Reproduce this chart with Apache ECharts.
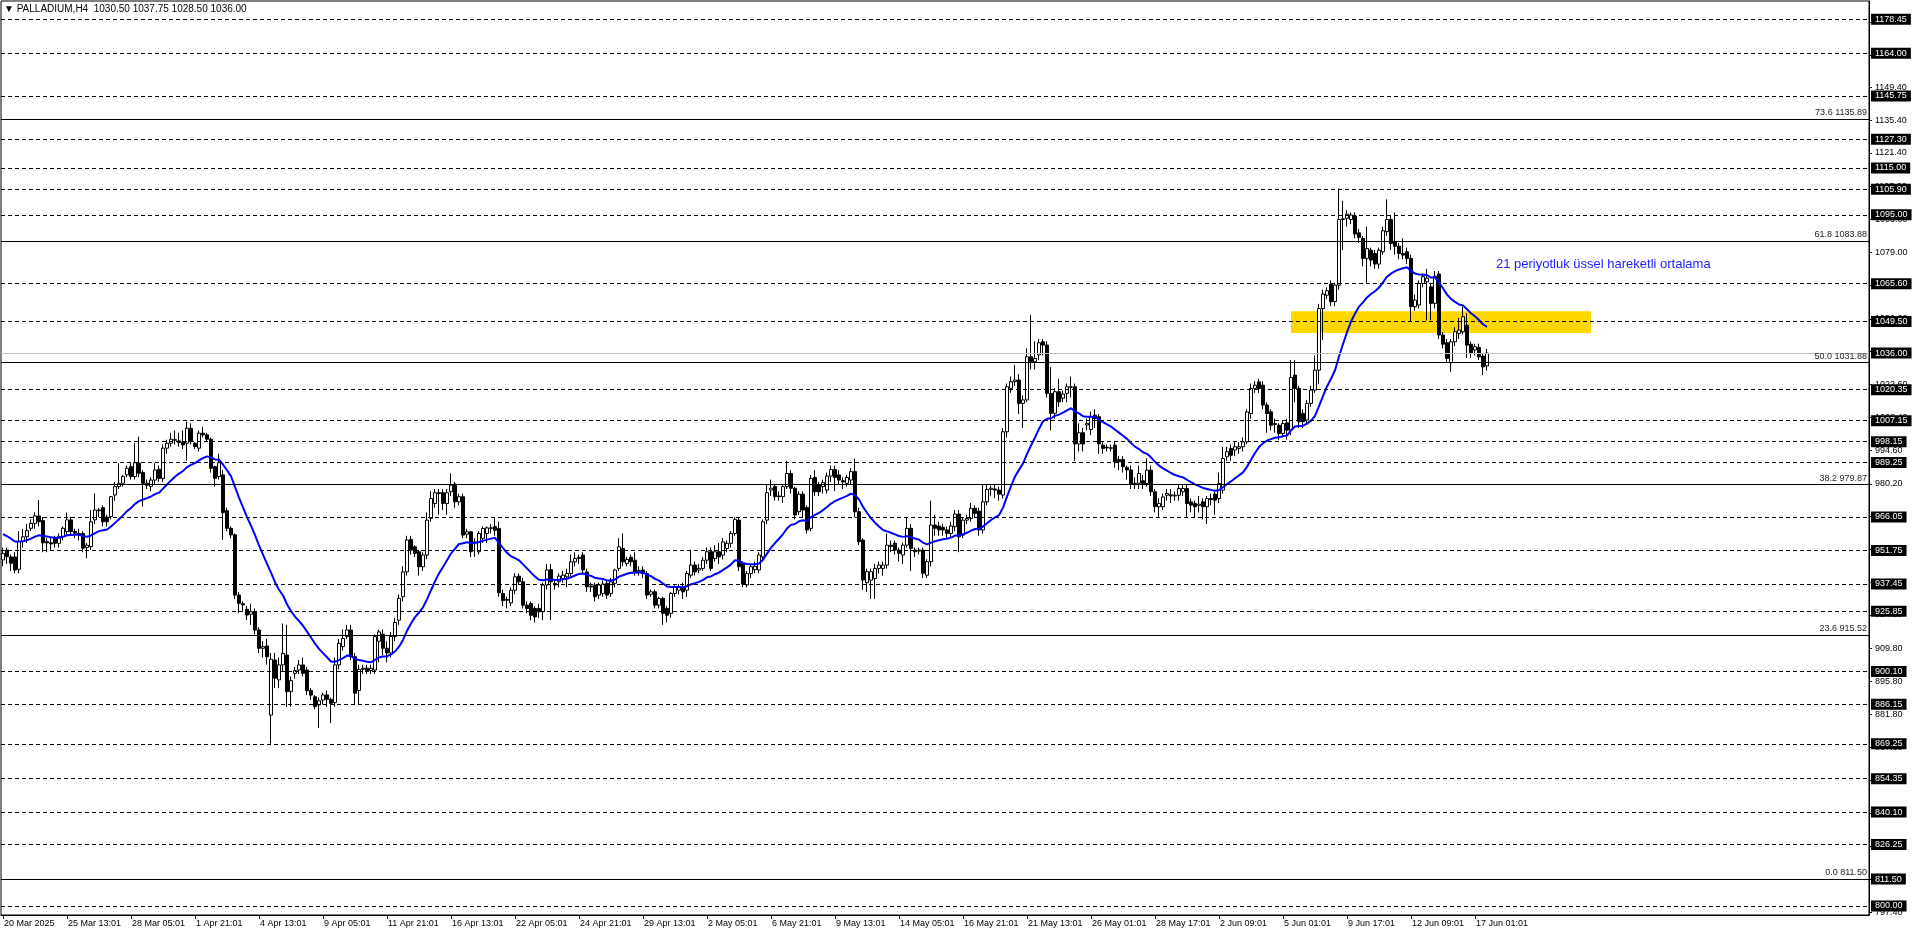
<!DOCTYPE html>
<html>
<head>
<meta charset="utf-8">
<script src="https://cdn.jsdelivr.net/npm/echarts@6/dist/echarts.min.js"></script>
<style>
html,body{margin:0;padding:0;background:#fff;}
#c{width:1916px;height:936px;}
</style>
</head>
<body>
<div id="c"></div>
<script>
// ---- DATA ----
const opens = [
947.7,951.9,949.0,949.0,943.7,955.5,957.6,961.2,963.3,966.5,
964.5,955.5,955.0,957.0,954.8,957.6,959.8,964.8,959.8,959.0,
959.0,953.0,953.4,964.8,969.0,970.0,966.0,966.2,975.4,979.0,
980.4,984.0,987.5,983.3,989.0,985.0,980.4,979.0,981.8,986.4,
982.5,995.4,997.5,999.0,998.5,998.0,997.5,1003.9,997.5,995.4,
1001.8,1001.1,999.2,987.5,983.3,984.0,968.7,961.2,958.4,932.7,
929.0,926.6,924.5,925.6,917.8,910.0,911.0,881.5,905.0,896.5,
902.9,907.1,891.5,899.3,900.7,902.9,900.7,892.0,889.3,885.8,
887.9,890.1,888.2,886.8,902.9,910.7,915.0,917.8,906.4,892.0,
901.0,901.5,900.5,900.7,913.0,916.0,910.0,908.0,915.0,922.0,
932.0,942.6,956.4,953.3,951.2,944.8,949.8,965.4,971.8,976.4,
976.4,971.8,976.8,980.1,972.5,974.7,958.7,959.7,955.0,951.2,
956.9,959.0,961.4,961.9,961.1,933.4,930.8,929.4,934.8,940.8,
938.4,928.4,929.1,927.0,927.0,925.6,937.0,943.6,937.7,938.4,
939.8,940.5,941.9,946.9,948.3,949.8,942.6,936.5,937.0,932.7,
933.4,937.7,933.4,937.7,944.1,952.6,946.2,948.8,947.6,942.6,
943.4,941.9,933.0,934.1,928.4,931.3,927.0,924.9,933.4,934.8,
936.2,934.8,941.2,945.5,943.4,944.1,947.6,951.2,948.3,951.2,
949.8,952.6,954.8,959.0,964.7,946.2,937.0,941.9,943.6,943.4,
949.0,964.7,977.5,979.0,974.7,974.7,979.0,984.6,978.3,968.3,
975.8,970.1,961.2,982.9,979.7,979.0,977.5,983.5,986.3,984.0,
981.5,980.4,981.8,985.4,968.3,956.2,938.0,939.1,939.8,944.1,
944.1,945.5,954.0,954.8,951.9,949.8,954.0,961.2,951.9,951.5,
951.9,941.2,947.0,962.6,962.2,961.6,960.5,959.0,961.9,967.3,
958.3,964.7,965.4,969.7,968.5,960.5,972.5,977.8,978.0,977.5,
975.4,1002.4,1020.9,1023.8,1024.5,1014.5,1016.0,1034.4,1032.3,1035.2,
1040.8,1039.4,1018.8,1010.3,1019.5,1016.7,1018.8,1021.6,1021.6,997.2,
1002.0,1005.3,1003.4,1009.5,1008.8,996.7,995.8,995.3,996.7,990.6,
990.6,987.2,986.1,980.1,980.4,981.5,980.3,986.0,976.8,970.4,
970.4,975.3,975.5,975.0,975.3,976.8,978.2,972.5,971.8,971.0,
972.5,970.4,973.9,975.8,973.9,977.5,991.7,995.3,994.6,995.3,
996.0,998.1,1010.2,1020.9,1023.7,1022.3,1013.8,1010.9,1005.5,1005.2,
1001.7,1006.2,1003.1,1026.6,1020.9,1010.2,1007.4,1014.5,1020.2,1028.7,
1055.0,1060.7,1065.3,1058.0,1065.0,1093.0,1093.5,1093.0,1094.5,1087.3,
1084.9,1076.4,1079.9,1078.5,1074.0,1079.2,1087.8,1093.0,1083.5,1081.6,
1078.5,1079.2,1076.4,1055.8,1056.5,1065.7,1066.4,1064.3,1057.2,1069.7,
1043.7,1040.4,1031.8,1040.8,1044.4,1045.1,1047.9,1039.8,1037.3,1038.4,
1034.7,1030.5
];
const closes = [
950.5,949.1,946.3,943.4,955.5,957.6,960.2,963.3,966.5,964.0,
955.0,955.0,954.5,954.8,957.6,961.2,964.8,959.8,959.1,958.5,
952.7,954.0,964.0,969.0,968.7,964.0,964.0,974.7,979.0,980.4,
983.3,986.8,983.3,989.2,984.7,980.4,979.6,981.8,986.1,982.5,
995.4,997.5,999.2,998.8,997.8,996.8,1003.9,998.2,996.1,1001.8,
1001.1,999.2,986.8,982.5,989.2,967.9,961.2,958.4,932.7,929.2,
928.5,924.2,925.6,917.8,910.0,910.7,906.4,905.3,897.2,902.9,
907.8,891.5,896.2,900.5,902.9,899.3,891.9,890.0,885.1,887.6,
890.1,888.2,886.5,902.9,912.1,914.2,917.8,906.4,890.8,901.0,
901.5,900.5,901.5,915.0,917.0,910.0,908.0,915.0,921.0,931.3,
942.6,956.2,951.9,950.5,944.8,949.8,964.7,973.9,976.4,976.0,
971.8,976.4,979.6,972.5,974.7,958.3,959.7,951.2,955.4,959.0,
961.1,961.4,961.2,960.4,933.7,930.3,930.5,934.8,940.5,938.4,
928.4,927.0,924.1,923.4,925.6,937.0,943.4,938.4,937.0,940.8,
941.2,941.9,946.9,948.3,948.8,943.4,936.2,936.2,932.0,937.0,
937.4,932.7,938.4,943.4,953.3,946.9,947.9,946.9,942.6,943.2,
941.9,932.7,934.1,928.4,931.3,924.9,924.1,933.4,936.2,936.2,
934.1,941.9,945.5,942.6,944.1,947.6,951.2,944.1,951.2,949.0,
955.4,954.8,959.0,965.0,944.8,937.4,941.9,944.8,945.0,949.8,
964.0,976.4,978.3,974.7,975.0,979.0,984.6,978.3,966.9,975.8,
969.0,960.5,982.5,976.8,976.8,980.7,983.5,986.3,982.9,981.8,
981.0,982.9,985.4,968.3,955.5,939.1,942.7,942.7,944.1,945.5,
945.5,954.0,953.5,951.9,950.5,954.0,961.2,952.6,951.2,951.9,
942.0,947.0,962.6,961.2,960.5,960.5,959.0,962.2,967.3,957.6,
964.7,965.4,969.7,967.6,960.5,972.5,977.8,978.3,977.5,975.8,
1002.4,1021.6,1023.8,1024.5,1014.5,1016.0,1034.4,1032.3,1033.7,1040.4,
1039.4,1018.8,1010.3,1019.5,1015.2,1018.5,1021.6,1021.4,997.2,1002.0,
997.2,1006.0,1008.8,1008.1,997.2,995.3,995.5,995.6,989.6,989.6,
987.5,986.1,980.1,980.4,984.6,980.3,986.0,976.8,970.4,971.8,
974.6,976.1,975.0,975.3,978.2,978.2,971.8,971.1,970.4,971.5,
970.4,973.9,973.5,973.2,980.3,991.0,993.9,992.4,996.0,996.0,
998.1,1010.9,1020.9,1022.3,1020.9,1013.8,1010.2,1005.2,1005.9,1001.7,
1005.9,1003.1,1025.6,1020.9,1006.7,1006.7,1014.5,1020.2,1028.7,1055.0,
1061.2,1062.6,1057.9,1065.0,1093.0,1093.3,1095.3,1094.9,1086.8,1085.3,
1076.4,1080.6,1075.7,1074.0,1079.9,1088.2,1093.0,1082.8,1081.6,1078.5,
1077.8,1076.4,1055.8,1058.6,1065.7,1068.6,1068.0,1057.2,1068.8,1043.7,
1039.8,1033.7,1040.8,1045.1,1045.8,1051.5,1039.4,1035.8,1038.7,1034.4,
1030.1,1036.0
];
const lows = [
945,946,943,942,942,953,955,960,961,962,
951,951,952,953,953,956,958,958,957,956,
951,948.4,952,963,966,962,962,965,973,978,
979,983,982,982,983,970.5,978,977,980,981,
981,993,996,997,996,995,990,997,995,994,
1000,998,985,979,982,956.3,960,957,931,925,
926,922,920,916,908,906,903,869.3,893,893,
900,885,885,897,899,898,890,888,884,876,
886,885,878,885,901,909,914,905,886,886,
899,899,899,899,904,907,904,906,913,920,
930,941,950,949,941,943,948,964,970,967,
969,967,975,970,971,957,957,949,949,950,
955,955,959,958,932,928,927,928,933,937,
927,925,922,921,923,922,935,922,935,936,
938,936,940,945,946,942,934,934,930,931,
932,931,932,936,943,945,945,945,941,941,
940,931,932,927,927,920,921,923,932,933,
931,932,940,941,942,943,946,943,947,946,
948,951,953,958,943,936,936,940,942,942,
947,963,975,973,973,972,978,976,965,967,
966,959,960,975,975,976,976,981,977,980,
978,979,980,966,954,935,934,931,931,942,
941,944,951,950,947,946,953,943,949,950,
940,940,945,958,958,958,957,957,960,951,
957,963,964,966,958,959,971,975,974,973,
974,1000,1019,1022,1010,1004,1015,1029,1029,1033,
1035,1017,1003,1008,1013,1015,1015,1017,990,994,
994,1003,1001,1004,993,993,994,994,987,986,
985,982,978,978,978,978,979,975,968,966,
969,973,972,973,973,975,966,968,966,968,
965,963,971,967,972,976,990,990,992,993,
994,997,1008,1019,1019,1012,1002,1003,1002,999,
1000,999,1001,1015,1004,1004,1006,1013,1019,1023,
1041.5,1059,1056,1056,1063,1080,1090,1091,1085,1083,
1073,1066,1073,1072,1072,1078,1086,1080,1078,1076,
1076,1074,1049.4,1054,1055,1064,1050,1050,1055,1042,
1038,1032,1028,1039,1042,1044,1034,1034,1035,1033,
1026.6,1028.5
];
const highs = [
953,953,950,951,960,961,963,965,968,973.3,
966,957,957,958,959,962,968,966,961,961,
960,955,969,976.1,970,971,967,975,981,989,
984,988,989,997.5,1000.3,986,982,983,989,988,
997,999,1002,1003,1002,1003,1006.7,1006,998,1003,
1004.5,1002,1000,988,993,986,970,962,959,934,
930,928,929,927,919,913,914,908,908,906,
920.6,920,898,902,905,906,902,893,890,889,
891,892,889,906,914,918,920,920,908,903,
903,903,903,916,918,918,913,917,923,933,
945,958,958,954,952,951,968,977,978,978,
978,978,984.6,981,976,976,961,960,957,960,
962,962,963,966,964,935,932,936,942,942,
940,930,930,928,929,938,946,946,939,942,
943,944,950,951,950,951,944,938,938,938,
939,939,940,944,957,959,949,950,951,945,
945,943,935,935,932,932,928,934,937,937.5,
938,943,952,947,946,949,953,953,954,955,
957,956,960,966,966,947,943,946,947,951,
965,980,982,980,977,980,990,986,979,977,
977,971,984,986,981,982,985,988,988,986,
983,984,987,991,970,957,944,944,946,947,
947,959,956,956,953,955,966,963,953,953,
953,948,973,967,964,963,962,964,969,969,
966,967,972,971,970,980,980,979.5,980,979,
1004,1023,1026,1031,1027,1018,1038,1052.2,1041,1042,
1042,1041,1030,1021,1025,1020,1023,1026,1023,1006,
1004,1008,1011,1012,1010,998,997,997,998,992,
992,988,988,983,988,984,991,988,978,974,
976,978,978,977,980,980,980,974,973,975,
974,975,976,977,985,996,996,997,998,998,
1000,1012,1023,1024,1025,1024,1015,1012,1008,1006,
1007,1008,1033,1033,1022,1012,1016,1022,1035,1057,
1063,1064,1067,1066,1106.3,1101,1097,1096,1096,1089,
1086,1090,1081,1080,1081,1090,1101.6,1094.5,1096,1083,
1085,1081,1078,1061,1067,1070,1072,1066,1071,1071,
1045,1042,1042,1047,1051,1055.8,1053,1041,1040,1040,
1036,1037.75
];
const timeLabels = ['20 Mar 2025','25 Mar 13:01','28 Mar 05:01','1 Apr 21:01','4 Apr 13:01','9 Apr 05:01','11 Apr 21:01','16 Apr 13:01','22 Apr 05:01','24 Apr 21:01','29 Apr 13:01','2 May 05:01','6 May 21:01','9 May 13:01','14 May 05:01','16 May 21:01','21 May 13:01','26 May 01:01','28 May 17:01','2 Jun 09:01','5 Jun 01:01','9 Jun 17:01','12 Jun 09:01','17 Jun 01:01'];
const labelEvery = 16;
const totalSlots = 467;           // bars + empty chart-shift space
const yTicks = [797.40,811.40,825.60,839.60,853.80,867.60,881.80,895.80,909.80,924.20,938.20,952.20,966.20,980.20,994.60,1008.40,1022.60,1036.60,1050.60,1064.80,1079.00,1093.00,1107.00,1121.40,1135.40,1149.40,1163.20,1177.40];
const hLevels = [1178.45,1164.00,1145.75,1127.30,1115.00,1105.90,1095.00,1065.60,1049.50,1020.35,1007.15,998.15,989.25,966.05,951.75,937.45,925.85,900.10,886.15,869.25,854.35,840.10,826.25,800.00];
const fibPct = ['73.6','61.8','50.0','38.2','23.6','0.0'];
const fibVals = [1135.89,1083.88,1031.88,979.87,915.52,811.50];
const bidPrice = 1036.00;
const zoneBars = [322, 397];
const zonePrices = [1053.8, 1044.6];
const emaPeriod = 21;
const emaSeed = 959.5;
const titleText = '\u25BC PALLADIUM,H4  1030.50 1037.75 1028.50 1036.00';
const noteText = '21 periyotluk üssel hareketli ortalama';

// ---- build ----
const FONT = 'Liberation Sans, Arial, sans-serif';
const cats = Array.from({length: totalSlots}, (_, i) => String(i));
const ohlc = opens.map((o, i) => [o, closes[i], lows[i], highs[i]]);
const k = 2 / (emaPeriod + 1);
let prev = emaSeed;
const ema = closes.map(c => { prev = prev + k * (c - prev); return +prev.toFixed(2); });

const boxLabel = v => ({
  show: true, position: 'end', distance: 2,
  formatter: v.toFixed(2), color: '#fff', backgroundColor: '#000',
  padding: [1, 4, 0, 4], fontSize: 9, fontFamily: FONT, lineHeight: 10
});
const lineData = [];
hLevels.forEach(v => lineData.push({
  yAxis: v, lineStyle: {type: [4, 3], color: '#000', width: 1}, label: boxLabel(v)
}));
fibVals.forEach((v, i) => lineData.push({
  yAxis: v, lineStyle: {type: 'solid', color: '#000', width: 1},
  label: {show: true, position: 'insideEndTop', distance: 2, formatter: fibPct[i] + ' ' + v.toFixed(2),
          color: '#222', fontSize: 9, fontFamily: FONT}
}));
lineData.push({yAxis: fibVals[5], lineStyle: {type: 'solid', color: '#000', width: 1}, label: boxLabel(fibVals[5])});
lineData.push({yAxis: bidPrice, lineStyle: {type: 'solid', color: '#c0c0c0', width: 1}, label: boxLabel(bidPrice)});

const tickShown = idx => idx % labelEvery === 0 && idx / labelEvery < timeLabels.length;

const chart = echarts.init(document.getElementById('c'), null, {renderer: 'canvas'});
chart.setOption({
  animation: false,
  backgroundColor: '#fff',
  grid: {left: 1, right: 47, top: 1, bottom: 21, show: true, borderColor: '#000', borderWidth: 1, backgroundColor: '#fff'},
  xAxis: {
    type: 'category', data: cats, boundaryGap: true,
    axisLine: {show: true, lineStyle: {color: '#000', width: 1}},
    axisTick: {show: true, alignWithLabel: true, length: 4, interval: tickShown, lineStyle: {color: '#000'}},
    axisLabel: {show: true, interval: tickShown, align: 'left', margin: 4, padding: [0, 0, 0, 1],
      color: '#000', fontSize: 9, fontFamily: FONT,
      formatter: (val, idx) => timeLabels[idx / labelEvery] || ''},
    splitLine: {show: false}
  },
  yAxis: {
    type: 'value', position: 'right', min: 796.16, max: 1186.26, scale: true,
    axisLine: {show: true, lineStyle: {color: '#000', width: 1}},
    axisTick: {show: true, length: 3, customValues: yTicks, lineStyle: {color: '#000'}},
    axisLabel: {show: true, customValues: yTicks, margin: 6, color: '#000', fontSize: 9, fontFamily: FONT,
      formatter: v => Number(v).toFixed(2)},
    splitLine: {show: false}
  },
  series: [
    {
      name: 'zone', type: 'line', data: [], z: 1, silent: true,
      markArea: {silent: true, itemStyle: {color: '#ffd700', opacity: 1},
        data: [[{xAxis: zoneBars[0], yAxis: zonePrices[0]}, {xAxis: zoneBars[1], yAxis: zonePrices[1]}]]}
    },
    {
      name: 'levels', type: 'line', data: [], z: 2, silent: true,
      markLine: {silent: true, symbol: ['none', 'none'], animation: false, data: lineData}
    },
    {
      name: 'PALLADIUM', type: 'candlestick', data: ohlc, z: 3, barWidth: 3,
      itemStyle: {color: '#ffffff', color0: '#000000', borderColor: '#000000', borderColor0: '#000000', borderWidth: 1}
    },
    {
      name: 'EMA21', type: 'line', data: ema, z: 4, symbol: 'none', smooth: false,
      lineStyle: {color: '#0000ff', width: 2}
    }
  ],
  graphic: [
    {type: 'text', left: 4, top: 4, z: 10, style: {text: titleText, fill: '#000', font: '10px ' + FONT}},
    {type: 'text', left: 1496, top: 258, z: 10, style: {text: noteText, fill: '#2020ff', font: '13px ' + FONT}}
  ]
});
</script>
</body>
</html>
